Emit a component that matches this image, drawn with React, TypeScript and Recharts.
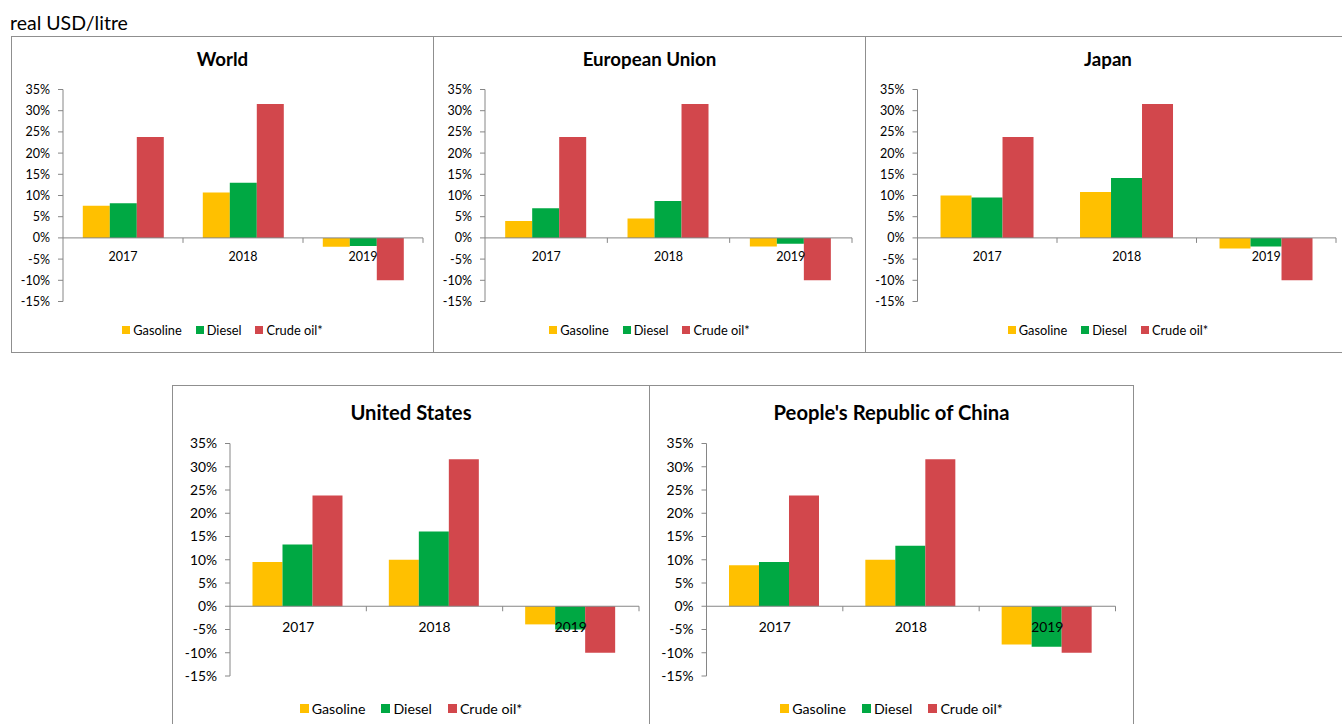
import React from 'react';
import { Bar, BarChart, ReferenceLine, XAxis, YAxis } from 'recharts';

const years = ['2017', '2018', '2019'];
const seriesNames = ['Gasoline', 'Diesel', 'Crude oil*'];
const seriesKeys = ['gasoline', 'diesel', 'crude'];
const seriesColors = ['#FFC000', '#00A843', '#D2474C'];
const yTicks = [-15, -10, -5, 0, 5, 10, 15, 20, 25, 30, 35];

// crude oil is the same benchmark in every panel
const crudeOil = [23.8, 31.6, -10.0];

const worldGasoline = [7.6, 10.7, -2.1];
const worldDiesel = [8.2, 13.0, -1.9];
const euGasoline = [4.0, 4.6, -2.0];
const euDiesel = [7.0, 8.7, -1.4];
const japanGasoline = [10.0, 10.8, -2.5];
const japanDiesel = [9.5, 14.1, -2.0];
const usGasoline = [9.5, 10.0, -3.9];
const usDiesel = [13.3, 16.1, -5.0];
const chinaGasoline = [8.8, 10.0, -8.2];
const chinaDiesel = [9.5, 13.0, -8.7];

const AXIS_GREY = '#868686';
const FONT = 'Lato, "Open Sans", sans-serif';

interface PanelLayout {
  title: string;
  gasoline: number[];
  diesel: number[];
  left: number;
  top: number;
  width: number;
  height: number;
  plotLeft: number;
  plotTop: number;
  plotBottom: number;
  plotRight: number;
  titleY: number;
  legendY: number;
  labelGap: number;
  fontSize: number;
  legendSize: number;
  legendGap: number;
  titleSize: number;
  markerSize: number;
}

const topRow = { top: 36, height: 317, plotTop: 53.5, plotBottom: 265.5, titleY: 23, legendY: 294, labelGap: 18.5, fontSize: 12.5, legendSize: 12.8, legendGap: 14, titleSize: 18.7, markerSize: 8 };
const bottomRow = { top: 385, height: 345, plotTop: 58.5, plotBottom: 291, titleY: 27, legendY: 323, labelGap: 20.5, fontSize: 13.8, legendSize: 14.2, legendGap: 16, titleSize: 20.2, markerSize: 9 };

const panels: PanelLayout[] = [
  { ...topRow, title: 'World', gasoline: worldGasoline, diesel: worldDiesel, left: 11, width: 423, plotLeft: 52, plotRight: 412 },
  { ...topRow, title: 'European Union', gasoline: euGasoline, diesel: euDiesel, left: 433, width: 433, plotLeft: 52, plotRight: 419 },
  { ...topRow, title: 'Japan', gasoline: japanGasoline, diesel: japanDiesel, left: 865, width: 486, plotLeft: 52.5, plotRight: 471 },
  { ...bottomRow, title: 'United States', gasoline: usGasoline, diesel: usDiesel, left: 172, width: 478, plotLeft: 58, plotRight: 467 },
  { ...bottomRow, title: "People's Republic of China", gasoline: chinaGasoline, diesel: chinaDiesel, left: 649, width: 485, plotLeft: 57.5, plotRight: 466.5 },
];

const Y_AXIS_W = 44;
const X_AXIS_H = 20;

function Panel({ p }: { p: PanelLayout }) {
  const data = years.map((year, i) => ({
    year,
    gasoline: p.gasoline[i],
    diesel: p.diesel[i],
    crude: crudeOil[i],
  }));
  const plotH = p.plotBottom - p.plotTop;
  const halfBand = (p.plotRight - p.plotLeft) / years.length / 2;
  const belowZero = (plotH * 15) / 50;

  const CategoryTick = (props: any) => {
    const { x, y, payload } = props;
    const zeroY = y - belowZero;
    return (
      <g>
        <line x1={x + halfBand} x2={x + halfBand} y1={zeroY} y2={zeroY + 5} stroke={AXIS_GREY} />
        <text
          x={x}
          y={zeroY + p.labelGap}
          textAnchor="middle"
          dominantBaseline="central"
          fontSize={p.fontSize}
          fontFamily={FONT}
          fill="#000"
        >
          {payload.value}
        </text>
      </g>
    );
  };

  return (
    <div style={{ position: 'absolute', left: p.left, top: p.top, width: p.width, height: p.height }}>
      <div
        style={{
          position: 'absolute',
          inset: 0,
          border: '1px solid #8f8f8f',
          background: '#fff',
        }}
      />
      <div
        style={{
          position: 'absolute',
          left: 0,
          width: p.width,
          top: p.titleY - 12,
          lineHeight: '24px',
          textAlign: 'center',
          fontWeight: 700,
          fontSize: p.titleSize,
          color: '#000',
        }}
      >
        {p.title}
      </div>
      <div style={{ position: 'absolute', left: 0, top: 0 }}>
        <BarChart
          width={p.width}
          height={p.plotBottom + X_AXIS_H + 10}
          data={data}
          margin={{ top: p.plotTop, right: p.width - p.plotRight, left: p.plotLeft - Y_AXIS_W, bottom: 10 }}
          barCategoryGap="16.5%"
          barGap={0}
        >
          <XAxis
            dataKey="year"
            height={X_AXIS_H}
            axisLine={false}
            tickLine={false}
            tickSize={0}
            tickMargin={0}
            tick={<CategoryTick />}
            interval={0}
          />
          <YAxis
            width={Y_AXIS_W}
            domain={[-15, 35]}
            ticks={yTicks}
            interval={0}
            allowDataOverflow
            axisLine={{ stroke: AXIS_GREY }}
            tickLine={{ stroke: AXIS_GREY }}
            tickSize={5}
            tickMargin={8}
            tick={{ fontSize: p.fontSize, fontFamily: FONT, fill: '#000' }}
            tickFormatter={(v: number) => `${v}%`}
          />
          {seriesKeys.map((key, i) => (
            <Bar key={key} dataKey={key} name={seriesNames[i]} fill={seriesColors[i]} isAnimationActive={false} />
          ))}
          <ReferenceLine y={0} stroke={AXIS_GREY} />
        </BarChart>
      </div>
      <div
        style={{
          position: 'absolute',
          left: 0,
          width: p.width,
          top: p.legendY - 10,
          height: 20,
          display: 'flex',
          justifyContent: 'center',
          alignItems: 'center',
          fontSize: p.legendSize,
          color: '#000',
        }}
      >
        {seriesNames.map((name, i) => (
          <div key={name} style={{ display: 'flex', alignItems: 'center', marginLeft: i === 0 ? 0 : p.legendGap }}>
            <span
              style={{
                display: 'inline-block',
                width: p.markerSize,
                height: p.markerSize,
                background: seriesColors[i],
                marginRight: 3,
              }}
            />
            <span>{name}</span>
          </div>
        ))}
      </div>
    </div>
  );
}

export default function App() {
  return (
    <div
      style={{
        position: 'fixed',
        left: 0,
        top: 0,
        width: 1342,
        height: 724,
        overflow: 'hidden',
        background: '#fff',
        fontFamily: FONT,
      }}
    >
      <div style={{ position: 'absolute', left: 10, top: 13, fontSize: 19.5, lineHeight: '19.5px', color: '#000' }}>
        real USD/litre
      </div>
      {panels.map((p) => (
        <Panel key={p.title} p={p} />
      ))}
    </div>
  );
}
